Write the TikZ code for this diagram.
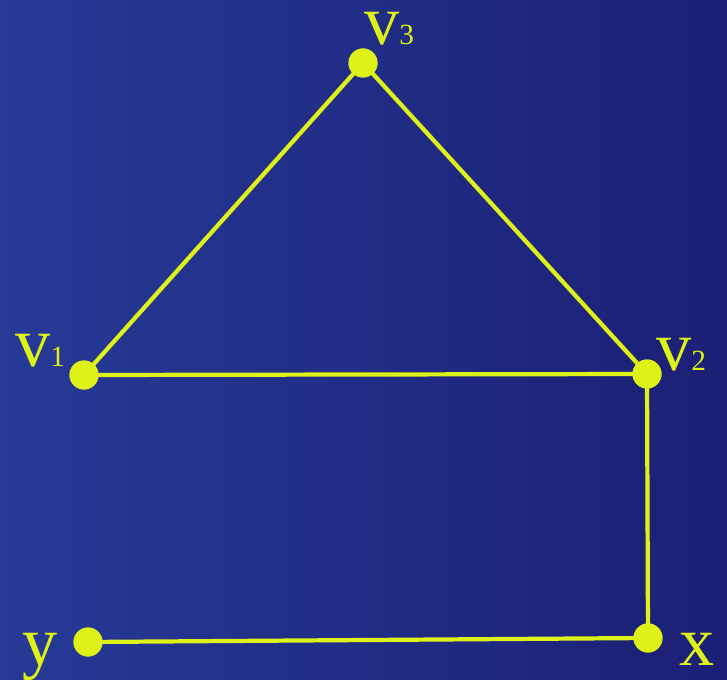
\documentclass[tikz,border=0pt]{standalone}
\usepackage{fontspec}
\setmainfont{Liberation Serif}
\definecolor{bgleft}{RGB}{38,58,150}
\definecolor{bgright}{RGB}{28,31,117}
\definecolor{lime}{RGB}{222,242,24}
\newcommand{\vsub}[1]{{\fontsize{25}{25}\selectfont #1}}
\tikzset{
  dot/.style={circle, fill=lime, minimum size=0.87cm, inner sep=0pt},
  lbl/.style={text=lime, font=\fontsize{60}{60}\selectfont, inner sep=0pt, anchor=base west},
  edge/.style={draw=lime, line width=3.6pt}
}
\begin{document}
\begin{tikzpicture}[x=0.03cm, y=-0.03cm]
\useasboundingbox (0,0) rectangle (727,680);
\shade[left color=bgleft, right color=bgright] (0,0) rectangle (727,680);
% vertices
\node[dot] (v1) at (84,375) {};
\node[dot] (v2) at (647,374) {};
\node[dot] (v3) at (363,63) {};
\node[dot] (x) at (648,638) {};
\node[dot] (y) at (88,642) {};
% edges
\draw[edge] (v1.center) -- (v3.center);
\draw[edge] (v3.center) -- (v2.center);
\draw[edge] (v1.center) -- (v2.center);
\draw[edge] (v2.center) -- (x.center);
\draw[edge] (x.center) -- (y.center);
% redraw dots on top
\foreach \n in {v1,v2,v3,x,y} \fill[lime] (\n) circle (14.5);
% labels
\node[lbl] (lv3) at (364,45) {v\vsub{3}};
\node[lbl] (lv1) at (15,366) {v\vsub{1}};
\node[lbl] (lv2) at (656,370) {v\vsub{2}};
\node[lbl] (ly) at (22,665) {y};
\node[lbl] (lx) at (679,665) {x};
\end{tikzpicture}
\end{document}
